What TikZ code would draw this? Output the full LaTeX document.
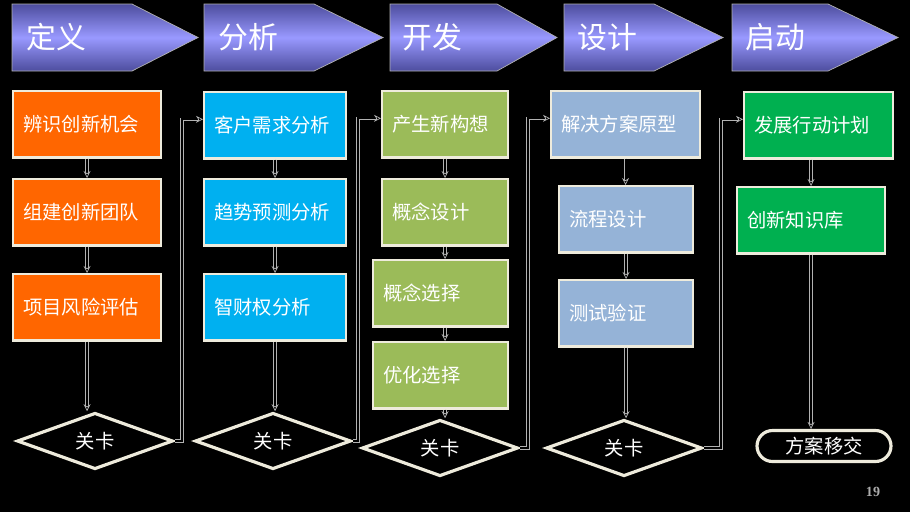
\documentclass[tikz,border=0pt]{standalone}
\usepackage{fontspec}
\setmainfont{Noto Sans CJK SC}
\newfontfamily\numfont{Liberation Serif}
\usetikzlibrary{shapes.geometric,arrows.meta}

\definecolor{frame}{HTML}{EEEBDC}
\definecolor{hdark}{HTML}{4D4D9E}
\definecolor{hlight}{HTML}{9999FF}
\definecolor{orangebox}{HTML}{FF6600}
\definecolor{bluebox}{HTML}{00B0F0}
\definecolor{olivebox}{HTML}{9BBB59}
\definecolor{greybox}{HTML}{95B3D7}
\definecolor{greenbox}{HTML}{00B050}

\tikzset{
  stepbox/.style={draw=frame, line width=1.2pt, anchor=north west, minimum height=1.33cm,
    inner xsep=0.2cm, align=left, text=white, font=\fontsize{11pt}{13pt}\selectfont},
  gate/.style={diamond, draw=frame, line width=1.8pt, fill=black, minimum width=3.12cm,
    minimum height=0.78cm, inner sep=0pt, text=white, font=\fontsize{11pt}{13pt}\selectfont},
  handover/.style={draw=frame, line width=1.8pt, rounded corners=0.31cm, minimum width=2.68cm,
    minimum height=0.62cm, text=white, font=\fontsize{11pt}{13pt}\selectfont},
  link/.style={draw=gray!60, line width=0.4pt, double=black, double distance=1.1pt,
    -{Stealth[open,length=4pt,width=4pt]}},
  phase/.style={anchor=west, text=white, font=\fontsize{17pt}{20pt}\selectfont},
  band/.style={top color=hdark, bottom color=hdark, middle color=hlight, draw=gray!60, line width=0.4pt},
}

\begin{document}
\begin{tikzpicture}[x=0.02cm, y=-0.02cm]
\fill[black] (0,0) rectangle (910,512);
\useasboundingbox (0,0) rectangle (910,512);

% phase headers
\shade[band] (12,4) -- (132,4) -- (198,37.5) -- (132,71) -- (12,71) -- cycle;
\shade[band] (204,4) -- (314,4) -- (383,37.5) -- (314,71) -- (204,71) -- cycle;
\shade[band] (390,4) -- (497,4) -- (557,37.5) -- (497,71) -- (390,71) -- cycle;
\shade[band] (564,4) -- (654,4) -- (723,37.5) -- (654,71) -- (564,71) -- cycle;
\shade[band] (732,4) -- (828,4) -- (898,37.5) -- (828,71) -- (732,71) -- cycle;
\node[phase] (hdef) at (20,37) {定义};
\node[phase] (hana) at (212,37) {分析};
\node[phase] (hdev) at (396,37) {开发};
\node[phase] (hdes) at (571,37) {设计};
\node[phase] (hlau) at (739,37) {启动};

% define
\node[stepbox, fill=orangebox, text width=2.56cm] (c11) at (12,90) {辨识创新机会};
\node[stepbox, fill=orangebox, text width=2.56cm] (c12) at (12,178) {组建创新团队};
\node[stepbox, fill=orangebox, text width=2.56cm] (c13) at (12,273) {项目风险评估};
\node[gate] (d1) at (95,441) {关卡};

% analyse
\node[stepbox, fill=bluebox, text width=2.44cm] (c21) at (203,91) {客户需求分析};
\node[stepbox, fill=bluebox, text width=2.44cm] (c22) at (203,178) {趋势预测分析};
\node[stepbox, fill=bluebox, text width=2.44cm] (c23) at (203,273) {智财权分析};
\node[gate] (d2) at (273,441) {关卡};

% develop
\node[stepbox, fill=olivebox, text width=2.12cm] (c31) at (381,90) {产生新构想};
\node[stepbox, fill=olivebox, text width=2.12cm] (c32) at (381,178) {概念设计};
\node[stepbox, fill=olivebox, text width=2.3cm] (c33) at (372,259) {概念选择};
\node[stepbox, fill=olivebox, text width=2.3cm] (c34) at (372,341) {优化选择};
\node[gate] (d3) at (440,448) {关卡};

% design
\node[stepbox, fill=greybox, text width=2.58cm] (c41) at (550,90) {解决方案原型};
\node[stepbox, fill=greybox, text width=2.28cm] (c42) at (558,185) {流程设计};
\node[stepbox, fill=greybox, text width=2.28cm] (c43) at (558,279) {测试验证};
\node[gate] (d4) at (624,448) {关卡};

% launch
\node[stepbox, fill=greenbox, text width=2.58cm] (c51) at (743,91) {发展行动计划};
\node[stepbox, fill=greenbox, text width=2.56cm] (c52) at (736,186) {创新知识库};
\node[handover] (fin) at (824,446) {方案移交};

\node[text=gray!65, font=\numfont\bfseries\fontsize{8pt}{9pt}\selectfont] (pg) at (873,492) {19};

% flow inside the phases
\draw[link] (c11.south) -- (c12.north);
\draw[link] (c12.south) -- (c13.north);
\draw[link] (c13.south) -- (c13.south |- d1.north);
\draw[link] (c21.south) -- (c22.north);
\draw[link] (c22.south) -- (c23.north);
\draw[link] (c23.south) -- (c23.south |- d2.north);
\draw[link] (c31.south) -- (c32.north);
\draw[link] (c32.south) -- (c32.south |- c33.north);
\draw[link] (c33.south -| c32.south) -- (c32.south |- c34.north);
\draw[link] (c34.south -| c32.south) -- (c32.south |- d3.north);
\draw[link] (c41.south) -- (c41.south |- c42.north);
\draw[link] (c42.south) -- (c43.north);
\draw[link] (c43.south) -- (c43.south |- d4.north);
\draw[link] (c52.north |- c51.south) -- (c52.north);
\draw[link] (c52.south) -- (c52.south |- fin.north);

% gates to next phase
\draw[link] (d1.east) -| ([xshift=-0.42cm,yshift=0.12cm]c21.west) -- ([yshift=0.12cm]c21.west);
\draw[link] (d2.east) -| ([xshift=-0.46cm,yshift=0.12cm]c31.west) -- ([yshift=0.12cm]c31.west);
\draw[link] (d3.east) -| ([xshift=-0.44cm,yshift=0.12cm]c41.west) -- ([yshift=0.12cm]c41.west);
\draw[link] (d4.east) -| ([xshift=-0.44cm,yshift=0.12cm]c51.west) -- ([yshift=0.12cm]c51.west);
\end{tikzpicture}
\end{document}
